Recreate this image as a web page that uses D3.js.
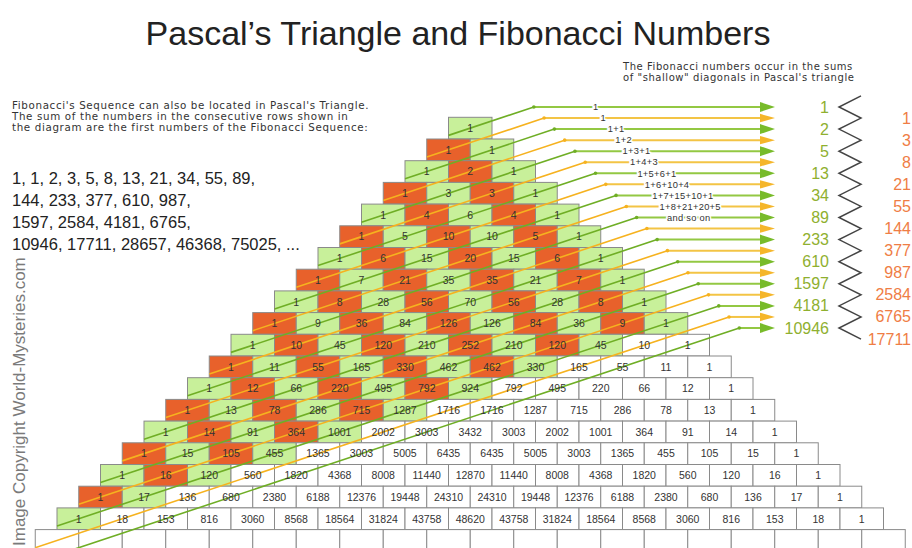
<!DOCTYPE html>
<html>
<head>
<meta charset="utf-8">
<script src="https://cdnjs.cloudflare.com/ajax/libs/d3/7.8.5/d3.min.js"></script>
<style>
body { margin: 0; background: #fff; }
svg { display: block; font-family: "Liberation Sans", Arial, sans-serif; }
</style>
</head>
<body>
<svg id="chart" width="912" height="548"></svg>
<script>
// pascal rows as printed in the picture
var pascalRows = [
	[1],
	[1, 1],
	[1, 2, 1],
	[1, 3, 3, 1],
	[1, 4, 6, 4, 1],
	[1, 5, 10, 10, 5, 1],
	[1, 6, 15, 20, 15, 6, 1],
	[1, 7, 21, 35, 35, 21, 7, 1],
	[1, 8, 28, 56, 70, 56, 28, 8, 1],
	[1, 9, 36, 84, 126, 126, 84, 36, 9, 1],
	[1, 10, 45, 120, 210, 252, 210, 120, 45, 10, 1],
	[1, 11, 55, 165, 330, 462, 462, 330, 165, 55, 11, 1],
	[1, 12, 66, 220, 495, 792, 924, 792, 495, 220, 66, 12, 1],
	[1, 13, 78, 286, 715, 1287, 1716, 1716, 1287, 715, 286, 78, 13, 1],
	[1, 14, 91, 364, 1001, 2002, 3003, 3432, 3003, 2002, 1001, 364, 91, 14, 1],
	[1, 15, 105, 455, 1365, 3003, 5005, 6435, 6435, 5005, 3003, 1365, 455, 105, 15, 1],
	[1, 16, 120, 560, 1820, 4368, 8008, 11440, 12870, 11440, 8008, 4368, 1820, 560, 120, 16, 1],
	[1, 17, 136, 680, 2380, 6188, 12376, 19448, 24310, 24310, 19448, 12376, 6188, 2380, 680, 136, 17, 1],
	[1, 18, 153, 816, 3060, 8568, 18564, 31824, 43758, 48620, 43758, 31824, 18564, 8568, 3060, 816, 153, 18, 1]
];
var blankRowCells = 20;        // last row, cut off by the frame
var shadedMaxDiagonal = 18;    // cells with row+col above this are left white
var lastDiagonal = 20;         // diagonals that get a line + arrow

var greenSums = [1, 2, 5, 13, 34, 89, 233, 610, 1597, 4181, 10946];
var redSums = [1, 3, 8, 21, 55, 144, 377, 987, 2584, 6765, 17711];
var diagonalLabels = ["1", "1", "1+1", "1+2", "1+3+1", "1+4+3", "1+5+6+1", "1+6+10+4",
	"1+7+15+10+1", "1+8+21+20+5", "and so on"];

var titleText = "Pascal\u2019s Triangle and Fibonacci Numbers";
var introLines = [
	"Fibonacci's Sequence can also be located in Pascal's Triangle.",
	"The sum of the numbers in the consecutive rows shown in",
	"the diagram are the first numbers of the Fibonacci Sequence:"
];
var sequenceLines = [
	"1, 1, 2, 3, 5, 8, 13, 21, 34, 55, 89,",
	"144, 233, 377, 610, 987,",
	"1597, 2584, 4181, 6765,",
	"10946, 17711, 28657, 46368, 75025, ..."
];
var noteLines = [
	"The Fibonacci numbers occur in the sums",
	"of \"shallow\" diagonals in Pascal's triangle"
];
var copyrightText = "Image Copyright World-Mysteries.com";

var GREEN_FILL = "#c8f09a", RED_FILL = "#e8612b";
var GREEN_LINE = "#6fae25", YELLOW_LINE = "#f6b21f";
var GREEN_H = "#93c843", YELLOW_H = "#f3c445";

var svg = d3.select("#chart");

// unit scales: u = horizontal cell units, v = row units
var cellX = d3.scaleLinear().domain([0, 1]).range([448.5, 492]);
var rowY = d3.scaleLinear().domain([0, 1]).range([117.3, 139]);
var sumY = d3.scaleLinear().domain([0, 20]).range([107, 328]);
var cw = cellX(1) - cellX(0), ch = rowY(1) - rowY(0);
var arrowBase = 760, arrowTip = 775;

// title
svg.append("text")
	.attr("x", 458).attr("y", 45)
	.attr("text-anchor", "middle")
	.style("font-size", "34px")
	.style("fill", "#222")
	.text(titleText);

// left texts
svg.selectAll(".intro").data(introLines).enter().append("text")
	.attr("class", "intro")
	.attr("x", 12).attr("y", function(d, i) { return 109 + i * 10.8; })
	.style("font-family", "'DejaVu Sans', sans-serif")
	.style("font-size", "10.3px")
	.style("letter-spacing", "0.65px")
	.style("fill", "#333")
	.text(function(d) { return d; });

svg.selectAll(".seq").data(sequenceLines).enter().append("text")
	.attr("class", "seq")
	.attr("x", 12).attr("y", function(d, i) { return 184 + i * 22; })
	.style("font-size", "16.5px")
	.style("fill", "#222")
	.text(function(d) { return d; });

svg.selectAll(".note").data(noteLines).enter().append("text")
	.attr("class", "note")
	.attr("x", 623).attr("y", function(d, i) { return 70 + i * 11; })
	.style("font-family", "'DejaVu Sans', sans-serif")
	.style("font-size", "10px")
	.style("letter-spacing", "0.56px")
	.style("fill", "#333")
	.text(function(d) { return d; });

svg.append("text")
	.attr("transform", "translate(25,546) rotate(-90)")
	.style("font-size", "17px")
	.style("fill", "#7a7a7a")
	.text(copyrightText);

// cells
var cells = [];
pascalRows.forEach(function(row, r) {
	row.forEach(function(val, c) {
		cells.push({r: r, c: c, val: val});
	});
});
for (var i = 0; i < blankRowCells; i++) {
	cells.push({r: pascalRows.length, c: i, val: null});
}

function cellFill(d) {
	if (d.val === null || d.r + d.c > shadedMaxDiagonal) return "#fff";
	return (d.r + d.c) % 2 === 0 ? GREEN_FILL : RED_FILL;
}

var cellG = svg.append("g");
cellG.selectAll("rect").data(cells).enter().append("rect")
	.attr("x", function(d) { return cellX(d.c - d.r / 2); })
	.attr("y", function(d) { return rowY(d.r); })
	.attr("width", cw).attr("height", ch)
	.style("fill", cellFill)
	.style("stroke", "#8a8a8a")
	.style("stroke-width", 1);

// shallow diagonals
var slope = ch / (1.5 * cw);
var diagonals = d3.range(0, lastDiagonal + 1).map(function(d) {
	var cl = Math.floor(d / 2), rl = d - cl;
	var cx = cellX(cl - rl / 2 + 0.5), cy = rowY(rl + 0.5);
	var yh = sumY(d);
	return {
		d: d,
		start: [cellX(-d / 2), rowY(d + 0.5 + 1 / 3)],
		bend: [cx + (cy - yh) / slope, yh],
		green: d % 2 === 0
	};
});

var lineG = svg.append("g");
lineG.selectAll(".diag").data(diagonals).enter().append("line")
	.attr("class", "diag")
	.attr("x1", function(d) { return d.start[0]; })
	.attr("y1", function(d) { return d.start[1]; })
	.attr("x2", function(d) { return d.bend[0]; })
	.attr("y2", function(d) { return d.bend[1]; })
	.style("stroke", function(d) { return d.green ? GREEN_LINE : YELLOW_LINE; })
	.style("stroke-width", 1.6);

lineG.selectAll(".hline").data(diagonals).enter().append("line")
	.attr("class", "hline")
	.attr("x1", function(d) { return d.bend[0]; })
	.attr("y1", function(d) { return d.bend[1]; })
	.attr("x2", arrowBase)
	.attr("y2", function(d) { return d.bend[1]; })
	.style("stroke", function(d) { return d.green ? GREEN_H : YELLOW_H; })
	.style("stroke-width", 2);

lineG.selectAll(".dot").data(diagonals).enter().append("circle")
	.attr("cx", function(d) { return d.bend[0]; })
	.attr("cy", function(d) { return d.bend[1]; })
	.attr("r", 1.8)
	.style("fill", function(d) { return d.green ? GREEN_LINE : YELLOW_LINE; });

lineG.selectAll(".arrow").data(diagonals).enter().append("path")
	.attr("d", function(d) {
		var y = d.bend[1], hh = d.green ? 5 : 4.2;
		return "M" + arrowBase + "," + (y - hh) + "L" + arrowTip + "," + y + "L" + arrowBase + "," + (y + hh) + "Z";
	})
	.style("fill", function(d) { return d.green ? "#78bb2a" : "#f5b62a"; });

// cell numbers on top of the lines
cellG = svg.append("g");
cellG.selectAll("text").data(cells.filter(function(d) { return d.val !== null; })).enter().append("text")
	.attr("x", function(d) { return cellX(d.c - d.r / 2 + 0.5); })
	.attr("y", function(d) { return rowY(d.r + 0.5) + 3.8; })
	.attr("text-anchor", "middle")
	.style("font-size", "10.5px")
	.style("fill", "#333")
	.text(function(d) { return d.val; });

// sum labels along the horizontals
svg.selectAll(".dlabel").data(diagonalLabels).enter().append("text")
	.attr("class", "dlabel")
	.attr("x", function(d, i) { return 593 + i * 7.4; })
	.attr("y", function(d, i) { return sumY(i) + 3.2; })
	.style("font-size", "9.3px")
	.style("letter-spacing", "0.3px")
	.style("fill", "#333")
	.style("stroke", "#fff").style("stroke-width", 3)
	.style("paint-order", "stroke")
	.text(function(d) { return d; });

// fibonacci columns
svg.selectAll(".gsum").data(greenSums).enter().append("text")
	.attr("class", "gsum")
	.attr("x", 829).attr("y", function(d, i) { return sumY(2 * i) + 5.5; })
	.attr("text-anchor", "end")
	.style("font-size", "16px")
	.style("fill", "#8fb02f")
	.text(function(d) { return d; });

svg.selectAll(".rsum").data(redSums).enter().append("text")
	.attr("class", "rsum")
	.attr("x", 911).attr("y", function(d, i) { return sumY(2 * i + 1) + 5.5; })
	.attr("text-anchor", "end")
	.style("font-size", "16px")
	.style("fill", "#ef7d45")
	.text(function(d) { return d; });

var zig = d3.range(-1, 2 * greenSums.length).map(function(k) {
	return [k % 2 === 0 ? 839 : 861, sumY(k)];
});
svg.append("path")
	.attr("d", d3.line()(zig))
	.style("fill", "none")
	.style("stroke", "#444")
	.style("stroke-width", 1.5);
</script>
</body>
</html>
